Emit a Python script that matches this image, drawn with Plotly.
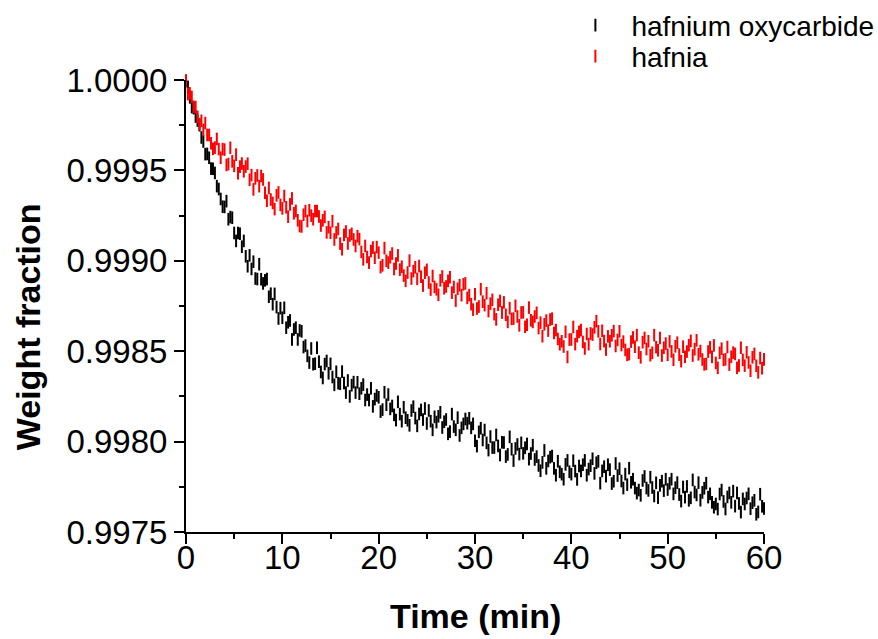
import plotly.graph_objects as go

# Isothermal TGA run: weight loss sampled every 0.2 min, stored in ppm of initial mass
SAMPLE_STEP_MIN = 0.2

series_names = ["hafnium oxycarbide", "hafnia"]
series_colors = ["#000000", "#ff0000"]

hfoc_loss_ppm = [
    5, 38, 96, 150, 156,
    202, 224, 250, 318, 340,
    410, 409, 430, 490, 491,
    514, 587, 603, 658, 701,
    702, 670, 770, 758, 762,
    846, 890, 846, 850, 922,
    890, 975, 1030, 970, 1045,
    1005, 1098, 1101, 1019, 1102,
    1125, 1108, 1101, 1199, 1182,
    1240, 1183, 1256, 1319, 1262,
    1315, 1260, 1370, 1340, 1330,
    1435, 1380, 1370, 1435, 1385,
    1390, 1477, 1469, 1526, 1563,
    1485, 1572, 1569, 1481, 1558,
    1615, 1648, 1571, 1554, 1622,
    1570, 1643, 1686, 1614, 1677,
    1680, 1613, 1676, 1729, 1662,
    1750, 1688, 1671, 1729, 1672,
    1735, 1705, 1685, 1770, 1740,
    1770, 1705, 1805, 1765, 1745,
    1755, 1834, 1823, 1727, 1796,
    1740, 1819, 1803, 1852, 1881,
    1780, 1848, 1887, 1810, 1868,
    1882, 1910, 1828, 1807, 1870,
    1913, 1847, 1825, 1878, 1817,
    1900, 1828, 1887, 1935, 1863,
    1892, 1860, 1838, 1922, 1890,
    1878, 1957, 1945, 1848, 1917,
    1935, 1868, 1966, 1924, 1902,
    1875, 1898, 1871, 1924, 1902,
    1995, 2025, 1946, 1926, 1991,
    1936, 2007, 2047, 1972, 2033,
    2033, 1963, 2024, 2074, 2004,
    2005, 2083, 2071, 1974, 2042,
    2105, 2038, 2016, 2069, 2007,
    2065, 2034, 2013, 2097, 2066,
    2020, 2099, 2083, 2132, 2161,
    2115, 2049, 2148, 2107, 2086,
    2080, 2148, 2186, 2109, 2167,
    2180, 2208, 2126, 2104, 2167,
    2180, 2106, 2163, 2209, 2135,
    2162, 2128, 2104, 2186, 2152,
    2133, 2095, 2176, 2117, 2109,
    2230, 2162, 2139, 2191, 2128,
    2155, 2232, 2219, 2121, 2188,
    2150, 2218, 2257, 2180, 2238,
    2147, 2225, 2208, 2257, 2285,
    2268, 2297, 2215, 2193, 2257,
    2270, 2197, 2254, 2301, 2228,
    2310, 2242, 2219, 2271, 2208,
    2265, 2231, 2208, 2289, 2255,
    2227, 2293, 2329, 2251, 2307,
    2248, 2325, 2311, 2212, 2279,
    2295, 2227, 2324, 2281, 2258,
    2230, 2307, 2289, 2336, 2363,
    2345, 2373, 2290, 2268, 2331,
    2373, 2306, 2284, 2336, 2274,
    2357, 2284, 2342, 2390, 2317,
    2345, 2312, 2289, 2371, 2338,
    2325, 2402, 2389, 2291, 2358,
    2370,
]

hfo2_loss_ppm = [
    5, 78, 74, 94, 148,
    150, 204, 244, 226, 276,
    238, 304, 304, 350, 381,
    374, 326, 382, 430, 382,
    385, 470, 465, 375, 450,
    475, 413, 516, 479, 462,
    505, 479, 463, 552, 526,
    605, 544, 528, 587, 531,
    550, 624, 668, 597, 661,
    680, 714, 638, 622, 691,
    710, 642, 704, 756, 688,
    655, 737, 724, 776, 808,
    810, 745, 725, 780, 720,
    750, 770, 725, 725, 755,
    805, 776, 757, 843, 814,
    845, 781, 882, 843, 824,
    905, 936, 857, 838, 904,
    860, 851, 882, 918, 864,
    880, 951, 992, 918, 979,
    1010, 946, 927, 983, 924,
    955, 1035, 1025, 930, 1000,
    1010, 980, 960, 1045, 1015,
    970, 1049, 1033, 1082, 1111,
    1065, 999, 1098, 1057, 1036,
    1100, 1029, 1088, 1137, 1066,
    1050, 1120, 1159, 1084, 1144,
    1158, 1188, 1108, 1087, 1152,
    1142, 1111, 1091, 1176, 1145,
    1220, 1155, 1135, 1190, 1130,
    1125, 1205, 1190, 1240, 1270,
    1185, 1264, 1253, 1157, 1226,
    1245, 1179, 1278, 1237, 1216,
    1295, 1324, 1243, 1222, 1286,
    1230, 1299, 1338, 1262, 1321,
    1320, 1249, 1308, 1357, 1286,
    1285, 1365, 1354, 1259, 1329,
    1338, 1308, 1288, 1372, 1342,
    1417, 1351, 1331, 1386, 1325,
    1320, 1399, 1383, 1432, 1461,
    1445, 1474, 1393, 1532, 1436,
    1435, 1366, 1461, 1417, 1393,
    1383, 1449, 1485, 1405, 1461,
    1402, 1408, 1368, 1334, 1390,
    1460, 1387, 1444, 1491, 1418,
    1445, 1412, 1389, 1471, 1438,
    1390, 1466, 1447, 1493, 1520,
    1516, 1447, 1424, 1475, 1411,
    1508, 1534, 1450, 1427, 1488,
    1445, 1522, 1509, 1411, 1478,
    1495, 1427, 1524, 1481, 1458,
    1520, 1446, 1501, 1547, 1473,
    1453, 1519, 1555, 1475, 1531,
    1502, 1467, 1443, 1524, 1489,
    1440, 1517, 1499, 1546, 1573,
    1570, 1502, 1479, 1531, 1468,
    1565, 1592, 1509, 1486, 1548,
    1545, 1477, 1574, 1531, 1508,
    1515, 1592, 1579, 1481, 1548,
    1580, 1506, 1562, 1608, 1534,
    1515, 1581, 1617, 1538, 1594,
    1545,
]

x_tick_values = [0, 10, 20, 30, 40, 50, 60]
y_tick_values = [0.9975, 0.9980, 0.9985, 0.9990, 0.9995, 1.0000]
y_tick_labels = ["0.9975", "0.9980", "0.9985", "0.9990", "0.9995", "1.0000"]

time_min = [round(i * SAMPLE_STEP_MIN, 1) for i in range(len(hfoc_loss_ppm))]
weights = [
    [1 - v * 1e-6 for v in hfoc_loss_ppm],
    [1 - v * 1e-6 for v in hfo2_loss_ppm],
]

FONT = "Liberation Sans, Arial, sans-serif"

fig = go.Figure()
for name, color, w, leg in zip(series_names, series_colors, weights, ["legend", "legend2"]):
    fig.add_trace(go.Scatter(
        x=time_min, y=w, name=name, mode="markers",
        cliponaxis=False, legend=leg, showlegend=True,
        marker=dict(symbol="line-ns", size=9, color=color,
                    line=dict(color=color, width=2)),
    ))

axis_common = dict(
    showline=True, linecolor="black", linewidth=2,
    ticks="outside", ticklen=10, tickwidth=2, tickcolor="black",
    showgrid=False, zeroline=False, mirror=False,
    tickfont=dict(family=FONT, size=33, color="black"),
)

fig.update_xaxes(
    range=[0, 60], tickvals=x_tick_values, ticklabelstandoff=-15,
    minor=dict(ticks="outside", ticklen=5, tickwidth=2, tickcolor="black",
               tick0=0, dtick=5, showgrid=False),
    **axis_common,
)
fig.update_yaxes(
    range=[0.9975, 1.0000], tickvals=y_tick_values, ticktext=y_tick_labels,
    minor=dict(ticks="outside", ticklen=5, tickwidth=2, tickcolor="black",
               tick0=0.9975, dtick=0.00025, showgrid=False),
    **axis_common,
)

legend_style = dict(
    xanchor="left", yanchor="top", itemwidth=62,
    font=dict(family=FONT, size=28, color="black"),
    bgcolor="rgba(0,0,0,0)",
)

fig.update_layout(
    width=878, height=639,
    margin=dict(l=186, r=114, t=80, b=107, autoexpand=False),
    plot_bgcolor="white", paper_bgcolor="white",
    font=dict(family=FONT, color="black"),
    showlegend=True,
    legend=dict(x=0.646, y=1.176, **legend_style),
    legend2=dict(x=0.646, y=1.1075, **legend_style),
    annotations=[
        dict(text="<b>Time (min)</b>", xref="paper", yref="paper",
             x=0.5, y=-0.186, xanchor="center", yanchor="middle",
             showarrow=False, font=dict(family=FONT, size=34, color="black")),
        dict(text="<b>Weight fraction</b>", xref="paper", yref="paper",
             x=-0.273, y=0.4535, xanchor="center", yanchor="middle",
             textangle=-90, showarrow=False,
             font=dict(family=FONT, size=34, color="black")),
    ],
)

fig.write_html("out.html")
